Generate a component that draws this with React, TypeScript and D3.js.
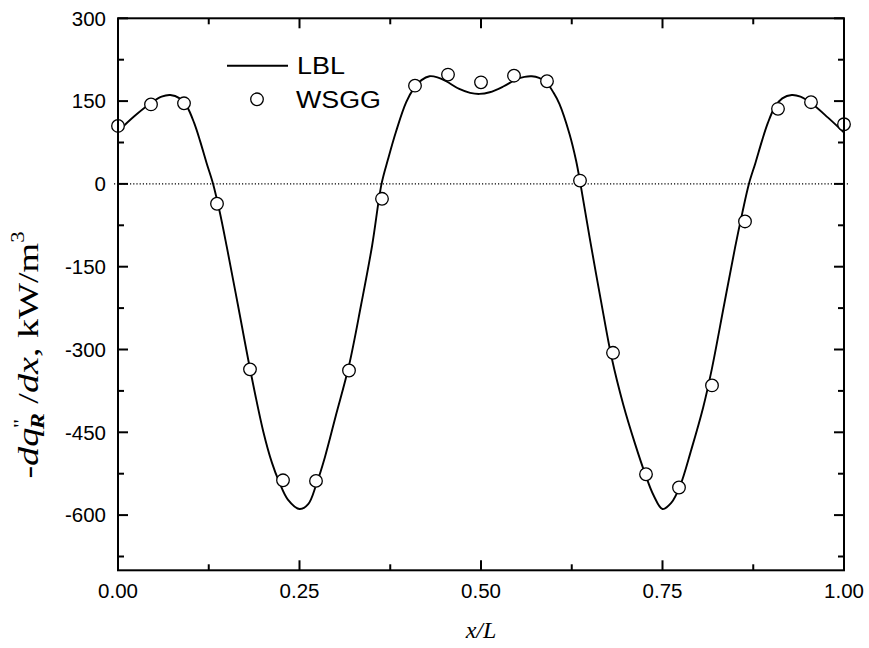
import React from "react";
import * as d3 from "d3";

const lblX = [0, 0.022, 0.045, 0.06, 0.072, 0.085, 0.095, 0.105, 0.113, 0.122, 0.131, 0.14, 0.15, 0.165, 0.182, 0.2, 0.212, 0.222, 0.234, 0.25, 0.262, 0.273, 0.285, 0.3, 0.318, 0.335, 0.35, 0.363, 0.372, 0.383, 0.397, 0.408, 0.418, 0.429, 0.44, 0.452, 0.47, 0.485, 0.498, 0.512, 0.53, 0.548, 0.56, 0.57, 0.58, 0.59, 0.6, 0.608, 0.622, 0.631, 0.637, 0.65, 0.665, 0.68, 0.696, 0.712, 0.726, 0.738, 0.75, 0.762, 0.774, 0.79, 0.806, 0.818, 0.835, 0.85, 0.86, 0.869, 0.878, 0.887, 0.895, 0.905, 0.915, 0.928, 0.94, 0.955, 0.978, 1.0];
const lblY = [95, 122, 146, 158, 161, 155, 140, 110, 78, 38, 0, -50, -115, -218, -336, -448, -505, -540, -572, -589, -580, -545, -495, -420, -330, -218, -112, 0, 45, 95, 148, 174, 188, 195, 193, 186, 172, 165, 163, 166, 176, 189, 194, 195, 192, 184, 165, 145, 90, 42, 0, -100, -210, -315, -400, -470, -525, -565, -589, -578, -548, -480, -405, -335, -218, -115, -52, 0, 38, 78, 110, 140, 155, 161, 158, 146, 120, 93];

const wsggY = [105, 144, 146, -36, -336, -537, -538, -338, -27, 178, 198, 184, 196, 186, 6, -306, -526, -550, -365, -68, 136, 148, 108];
const wsggX = wsggY.map((_, i) => i / 22);

const xMajor = [0, 0.25, 0.5, 0.75, 1.0];
const xMinor = [0.125, 0.375, 0.625, 0.875];
const yMajor = [-600, -450, -300, -150, 0, 150, 300];
const yMinor = [-675, -525, -375, -225, -75, 75, 225];

const L = 118, R = 844, T = 18.3, B = 570.3;

export default function App() {
  const x = d3.scaleLinear().domain([0, 1]).range([L, R]);
  const y = d3.scaleLinear().domain([-700, 300]).range([B, T]);
  const line = d3
    .line<number>()
    .x((_, i) => x(lblX[i]))
    .y((d) => y(d))
    .curve(d3.curveCatmullRom.alpha(0.5));
  const tickFont = "Liberation Sans, Arial, sans-serif";
  const serif = "Liberation Serif, Times New Roman, serif";
  const majorLen = 10, minorLen = 6;
  return (
    <svg width={869} height={648} style={{ position: "absolute", left: 0, top: 0, background: "#fff" }}>
      <rect x={0} y={0} width={869} height={648} fill="#fff" />
      <line x1={L - 4} x2={R + 4} y1={y(0)} y2={y(0)} stroke="#000" strokeWidth={1.2} strokeDasharray="1.2,2" />
      <path d={line(lblY) || ""} fill="none" stroke="#000" strokeWidth={1.9} />
      {wsggY.map((v, i) => (
        <circle key={i} cx={x(wsggX[i])} cy={y(v)} r={6.3} fill="#fff" stroke="#000" strokeWidth={1.3} />
      ))}
      <rect x={L} y={T} width={R - L} height={B - T} fill="none" stroke="#000" strokeWidth={2} />
      {xMajor.map((v) => (
        <g key={"xM" + v}>
          <line x1={x(v)} x2={x(v)} y1={B} y2={B - majorLen} stroke="#000" strokeWidth={2} />
          <line x1={x(v)} x2={x(v)} y1={T} y2={T + majorLen} stroke="#000" strokeWidth={2} />
          <text x={x(v)} y={598} textAnchor="middle" fontFamily={tickFont} fontSize={20.5}>
            {v.toFixed(2)}
          </text>
        </g>
      ))}
      {xMinor.map((v) => (
        <g key={"xm" + v}>
          <line x1={x(v)} x2={x(v)} y1={B} y2={B - minorLen} stroke="#000" strokeWidth={2} />
          <line x1={x(v)} x2={x(v)} y1={T} y2={T + minorLen} stroke="#000" strokeWidth={2} />
        </g>
      ))}
      {yMajor.map((v) => (
        <g key={"yM" + v}>
          <line x1={L} x2={L + majorLen} y1={y(v)} y2={y(v)} stroke="#000" strokeWidth={2} />
          <line x1={R} x2={R - majorLen} y1={y(v)} y2={y(v)} stroke="#000" strokeWidth={2} />
          <text x={106} y={y(v)} dy="0.36em" textAnchor="end" fontFamily={tickFont} fontSize={20.5}>
            {v}
          </text>
        </g>
      ))}
      {yMinor.map((v) => (
        <g key={"ym" + v}>
          <line x1={L} x2={L + minorLen} y1={y(v)} y2={y(v)} stroke="#000" strokeWidth={2} />
          <line x1={R} x2={R - minorLen} y1={y(v)} y2={y(v)} stroke="#000" strokeWidth={2} />
        </g>
      ))}
      <line x1={227} x2={288} y1={65.7} y2={65.7} stroke="#000" strokeWidth={1.9} />
      <text x={297} y={74} fontFamily={tickFont} fontSize={23} textLength={48} lengthAdjust="spacingAndGlyphs">LBL</text>
      <circle cx={257} cy={99.3} r={6.3} fill="#fff" stroke="#000" strokeWidth={1.3} />
      <text x={296} y={107.5} fontFamily={tickFont} fontSize={23} textLength={85} lengthAdjust="spacingAndGlyphs">WSGG</text>
      <text x={481} y={638} textAnchor="middle" fontFamily={serif} fontSize={24} fontStyle="italic">
        x/L
      </text>
      <g transform="translate(38,355) rotate(-90) scale(1.27,1)">
        <text x={0} y={0} textAnchor="middle" fontFamily={serif} fontSize={30}>
          <tspan fontStyle="italic">-dq</tspan>
          <tspan fontSize={19} dy={-11}>''</tspan>
          <tspan fontSize={19} fontStyle="italic" fontWeight="bold" dx={-8} dy={17}>R</tspan>
          <tspan dy={-6}> /</tspan>
          <tspan fontStyle="italic">dx</tspan>
          <tspan>, kW/m</tspan>
          <tspan fontSize={18} dy={-14}>3</tspan>
        </text>
      </g>
    </svg>
  );
}
